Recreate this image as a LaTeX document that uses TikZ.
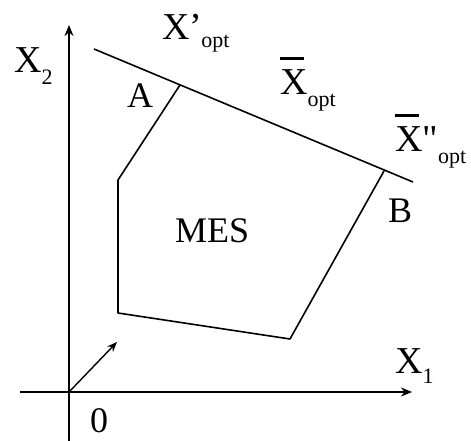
\documentclass[tikz,border=0pt]{standalone}
\usepackage{fontspec}
\setmainfont{Liberation Serif}
\usetikzlibrary{arrows.meta}
\newcommand\optsub[2]{\raisebox{-#1}{\fontsize{22}{22}\selectfont #2}}
\newcommand\barX{\leavevmode\rlap{\raisebox{0.92em}{\rule{0.63em}{0.075em}}}X}
\tikzset{
  lbl/.style  = {inner sep=0pt, anchor=base west,
                 font=\fontsize{36}{40}\selectfont},
  xlbl/.style = {inner sep=0pt, anchor=base west,
                 font=\fontsize{38}{42}\selectfont},
  axis/.style = {-{Stealth[length=11pt, width=9pt]}, line width=2.2pt},
  edge/.style = {line width=1.6pt, line join=round},
  arr/.style  = {-{Stealth[length=10pt, width=8pt]}, line width=1.4pt},
}
\begin{document}
\begin{tikzpicture}[x=1pt, y=-1pt]
  \useasboundingbox (0,0) rectangle (471,441);

  % axes
  \coordinate (orig) at (69,392);
  \coordinate (ybot) at (69,441);
  \coordinate (ytop) at (69,25);
  \coordinate (xlft) at (20,392);
  \coordinate (xrgt) at (412,392);
  \draw[axis] (ybot) -- (ytop);
  \draw[axis] (xlft) -- (xrgt);
  \coordinate (dir) at (117,342);
  \draw[arr] (orig) -- (dir);

  % objective line
  \coordinate (optL) at (94,49);
  \coordinate (optR) at (413,182);
  \draw[edge] (optL) -- (optR);

  % region MES
  \coordinate (A)  at (180,85);
  \coordinate (pl) at (118,180);
  \coordinate (bl) at (118,313);
  \coordinate (br) at (290,339);
  \coordinate (B)  at (384,171);
  \draw[edge] (A) -- (pl) -- (bl) -- (br) -- (B);

  % labels
  \node[xlbl] (xtwo) at (14,73)  {X\optsub{12pt}{2}};
  \node[xlbl] (xone) at (395,373) {X\optsub{10pt}{1}};
  \node[lbl]  (zero) at (90,432)  {0};
  \node[lbl]  (la)   at (127,108) {A};
  \node[lbl]  (lb)   at (388,222) {B};
  \node[lbl]  (mes)  at (175,242) {MES};
  \node[xlbl] (xp)   at (162,40)  {X’\kern-1pt\optsub{8pt}{opt}};
  \node[xlbl] (xbar) at (280,95)  {\barX\optsub{12pt}{opt}};
  \node[xlbl] (xpp)  at (395,152) {\barX\textquotedbl\optsub{11pt}{opt}};
\end{tikzpicture}
\end{document}
